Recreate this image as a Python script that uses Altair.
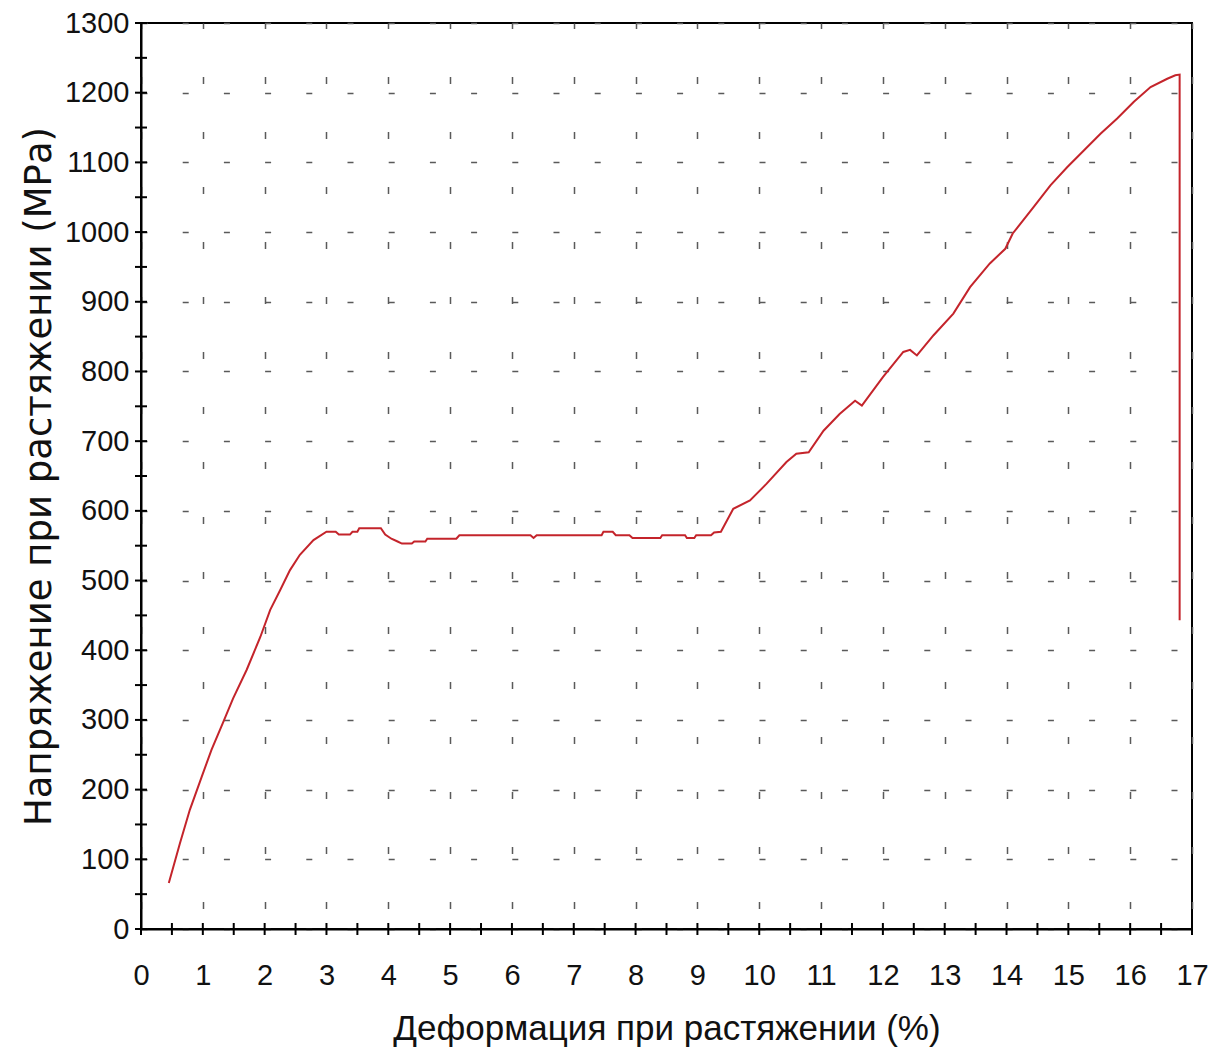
import altair as alt
import pandas as pd

# Tensile test curve
strain = [0.45, 0.63, 0.79, 0.98, 1.14, 1.33, 1.49, 1.71, 1.93, 2.09, 2.25, 2.41, 2.57, 2.79,
          3.0, 3.15, 3.2, 3.38, 3.42, 3.5, 3.53, 3.88, 3.95, 4.05, 4.15, 4.22, 4.38, 4.42,
          4.6, 4.63, 5.1, 5.15, 6.3, 6.35, 6.4, 7.45, 7.48, 7.63, 7.68, 7.9, 7.95, 8.4,
          8.43, 8.8, 8.83, 8.95, 8.98, 9.22, 9.27, 9.38, 9.58, 9.85, 10.12, 10.44, 10.6,
          10.8, 11.04, 11.3, 11.55, 11.66, 12.0, 12.33, 12.44, 12.55, 12.82, 13.14, 13.41,
          13.73, 13.98, 14.1, 14.44, 14.71, 14.98, 15.25, 15.52, 15.79, 16.06, 16.33, 16.6,
          16.73, 16.8, 16.8]
stress = [66, 123, 171, 218, 257, 297, 331, 372, 419, 458, 486, 515, 537, 558,
          570, 570, 566, 566, 570, 570, 575, 575, 566, 560, 556, 553, 553, 556,
          556, 560, 560, 565, 565, 561, 565, 565, 570, 570, 565, 565, 561, 561,
          565, 565, 561, 561, 565, 565, 569, 570, 603, 615, 639, 670, 682,
          684, 715, 739, 758, 751, 792, 828, 831, 823, 852, 883, 921,
          955, 976, 998, 1036, 1067, 1093, 1117, 1141, 1163, 1187, 1208, 1220,
          1225, 1226, 443]

x_labels = list(range(0, 18))
y_labels = list(range(0, 1301, 100))
x_minor = [i * 0.5 for i in range(0, 35)]
y_minor = list(range(0, 1301, 50))

x_title = "Деформация при растяжении (%)"
y_title = "Напряжение при растяжении (МРа)"

W, H = 1051, 906

curve = pd.DataFrame({"strain": strain, "stress": stress, "order": list(range(len(strain)))})
xt = pd.DataFrame({"v": x_minor})
yt = pd.DataFrame({"v": y_minor})

xscale = alt.Scale(domain=[0, 17], nice=False, zero=False)
yscale = alt.Scale(domain=[0, 1300], nice=False, zero=False)

label_font = "Liberation Sans"

x_axis = alt.Axis(
    values=x_labels, format="d", title=x_title, grid=True, gridColor="#5a5a5a", gridWidth=1.5,
    gridDash=[7, 48], gridDashOffset=1.5, ticks=False, tickSize=0,
    domain=True, domainColor="black", domainWidth=2,
    labelFont=label_font, labelFontSize=29, labelColor="#111", labelPadding=55,
    labelBaseline="alphabetic", labelFlush=False, labelOverlap=False,
    titleFont=label_font, titleFontSize=35, titleFontWeight="normal", titleColor="#111",
    titleBaseline="alphabetic", titleY=110, titleX=W / 2, titleAlign="center",
)
y_axis = alt.Axis(
    values=y_labels, format="d", title=y_title, grid=True, gridColor="#5a5a5a", gridWidth=1.5,
    gridDash=[6, 35.2], gridDashOffset=0, ticks=False, tickSize=0,
    domain=True, domainColor="black", domainWidth=2,
    labelFont=label_font, labelFontSize=29, labelColor="#111", labelPadding=12,
    labelBaseline="middle", labelAlign="right", labelFlush=False, labelOverlap=False,
    titleFont="DejaVu Sans", titleFontSize=37, titleFontWeight="normal", titleColor="#111",
    titleBaseline="alphabetic", titleAngle=270, titleX=-91, titleY=H / 2, titleAlign="center",
)

line = alt.Chart(curve).mark_line(color="#c4242b", strokeWidth=2, clip=False).encode(
    x=alt.X("strain:Q", scale=xscale, axis=x_axis),
    y=alt.Y("stress:Q", scale=yscale, axis=y_axis),
    order="order:Q",
)

xticks = alt.Chart(xt).mark_rule(color="black", strokeWidth=2).encode(
    x=alt.X("v:Q", scale=xscale),
    y=alt.value(H - 6),
    y2=alt.value(H + 6),
)
yticks = alt.Chart(yt).mark_rule(color="black", strokeWidth=2).encode(
    y=alt.Y("v:Q", scale=yscale),
    x=alt.value(-6),
    x2=alt.value(6),
)

chart = alt.layer(line, xticks, yticks).properties(
    width=W, height=H,
    autosize=alt.AutoSizeParams(type="none"),
    padding={"left": 133, "top": 15, "right": 16, "bottom": 121},
    background="white",
).configure_view(stroke="black", strokeWidth=2)

chart.save("out.html", embed_options={"renderer": "svg", "actions": False})
